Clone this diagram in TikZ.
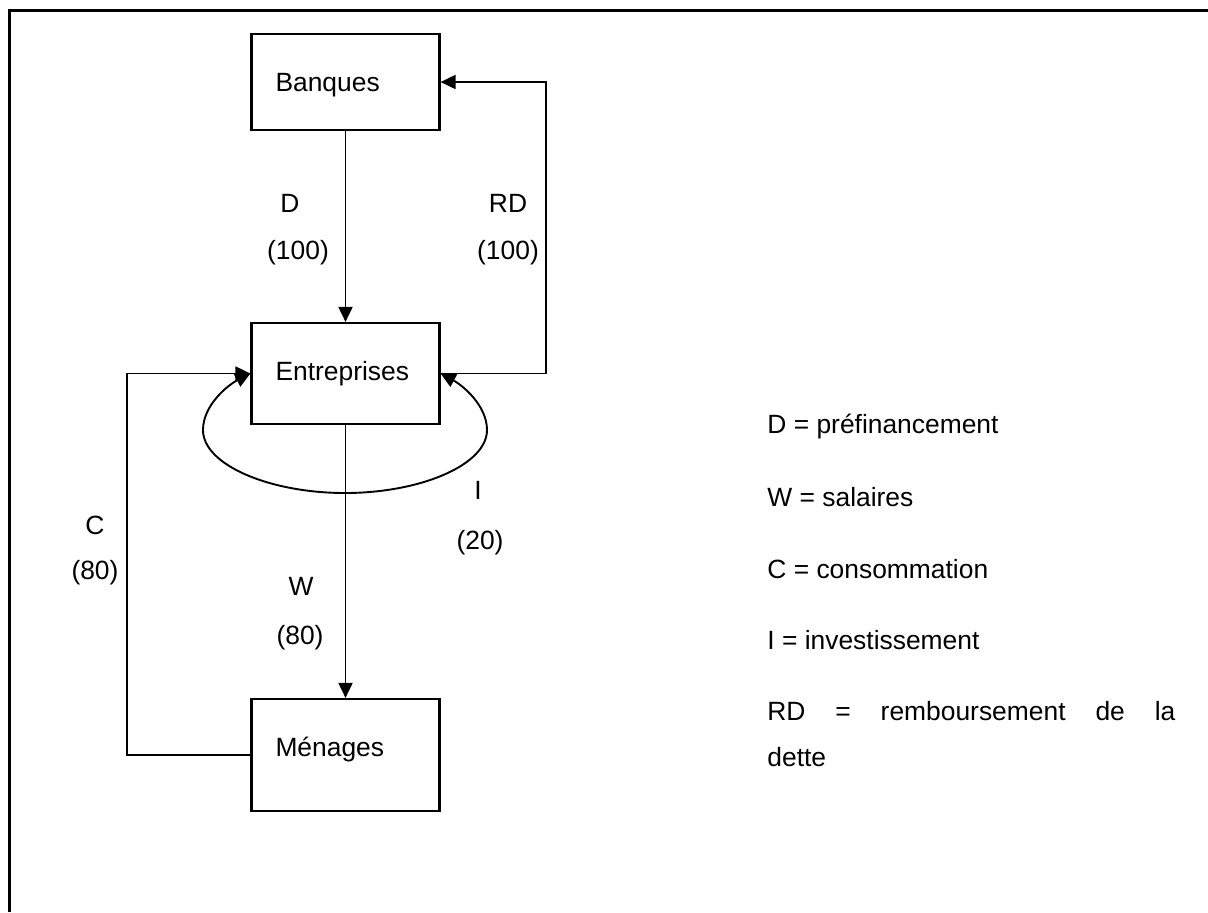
\documentclass[tikz,border=0pt]{standalone}
\usepackage{fontspec}
\setmainfont{Liberation Sans}
\usetikzlibrary{arrows.meta}

\begin{document}
\begin{tikzpicture}[x=0.5pt,y=-0.5pt,
    every node/.style={font=\fontsize{13.2}{15}\selectfont},
    box/.style={draw, line width=1.1pt, text width=70pt, align=left, inner xsep=12pt, minimum height=#1, text height=9.5pt},
    lbl/.style={inner sep=0pt, text height=9.5pt, text depth=0pt},
    leg/.style={lbl, anchor=west},
    arr/.style={line width=0.95pt, -{Triangle[length=7.5pt,width=7pt]}}]
    \useasboundingbox (0,0) rectangle (1208,912);
    \draw[line width=1.5pt] (9.5,912)--(9.5,10.5)--(1208,10.5);

    \node[box=48pt, text depth=0pt] (banques) at (345.5,82) {Banques};
    \node[box=50.5pt, text depth=2.5pt] (entreprises) at (345.5,373.5) {Entreprises};
    \node[box=56pt, text depth=8pt] (menages) at (345.5,755) {Ménages};

    \coordinate (rdcorner) at (546,373.5);
    \coordinate (ccorner) at (127,755);

    \draw[arr] (banques)--(entreprises);
    \draw[arr] (entreprises)--(menages);
    \draw[arr] (entreprises.east)--(rdcorner)|-(banques.east);
    \draw[arr] (menages.west)--(ccorner)|-(entreprises.west);
    \draw[arr, {Triangle[length=7.5pt,width=7pt]}-{Triangle[length=7.5pt,width=7pt]}] (entreprises.east)
        .. controls (462,385) and (487,405) .. (487,430)
        .. controls (487,465) and (420,493) .. (345,493)
        .. controls (270,493) and (203,465) .. (203,430)
        .. controls (203,405) and (228,385) .. (entreprises.west);

    \node[lbl] (dlbl) at (290,203) {D};
    \node[lbl] (dval) at (298,250) {(100)};
    \node[lbl] (rdlbl) at (508,203) {RD};
    \node[lbl] (rdval) at (508,250) {(100)};
    \node[lbl] (ilbl) at (478,490) {I};
    \node[lbl] (ival) at (480,540) {(20)};
    \node[lbl] (clbl) at (95,525) {C};
    \node[lbl] (cval) at (95,570) {(80)};
    \node[lbl] (wlbl) at (301,586) {W};
    \node[lbl] (wval) at (300,635) {(80)};

    \node[leg] (legd) at (767,424) {D = préfinancement};
    \node[leg] (legw) at (767,497) {W = salaires};
    \node[leg] (legc) at (767,569) {C = consommation};
    \node[leg] (legi) at (767,640) {I = investissement};
    \node[lbl, anchor=north west, text width=204pt, align=justify, font=\fontsize{13.2}{23}\selectfont] (legrd) at (767,701) {RD = remboursement de la\linebreak dette};
\end{tikzpicture}
\end{document}
